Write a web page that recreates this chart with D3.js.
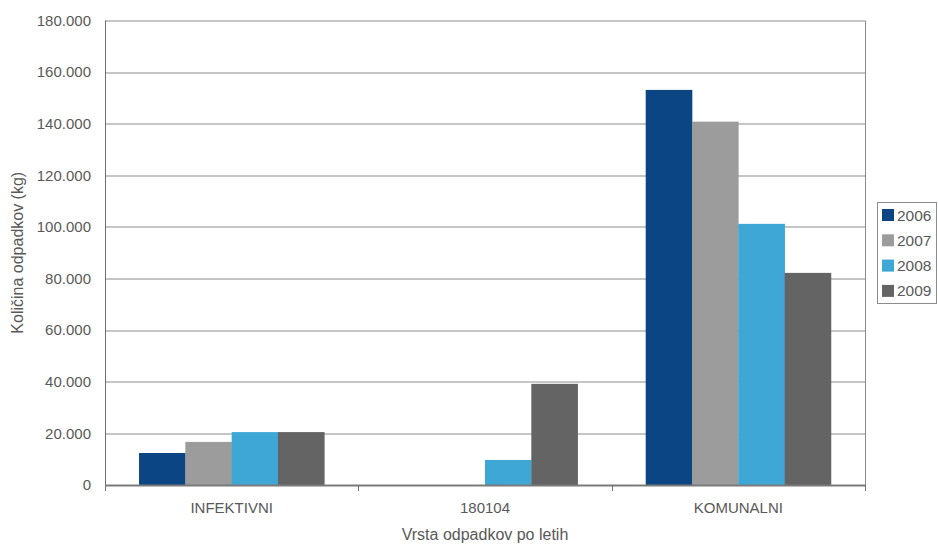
<!DOCTYPE html>
<html>
<head>
<meta charset="utf-8">
<script src="https://cdn.jsdelivr.net/npm/d3@7"></script>
<style>
  html, body { margin: 0; padding: 0; background: #fff; }
  svg { display: block; font-family: "Liberation Sans", Arial, sans-serif; }
</style>
</head>
<body>
<svg id="chart" width="938" height="545"></svg>
<script>
// Waste quantities (kg) per waste type and year
const categories = ["INFEKTIVNI", "180104", "KOMUNALNI"];
const years = ["2006", "2007", "2008", "2009"];
const values2006 = [12400, 0, 153100];
const values2007 = [16700, 0, 140800];
const values2008 = [20500, 9700, 101200];
const values2009 = [20500, 39200, 82200];
const yTicks = [0, 20000, 40000, 60000, 80000, 100000, 120000, 140000, 160000, 180000];
const colors = ["#0b4583", "#9c9c9c", "#3ea7d6", "#646464"];

const series = [values2006, values2007, values2008, values2009];

const svg = d3.select("#chart");
const margin = { left: 105, right: 73, top: 20.5, bottom: 60 };
const W = 938, H = 545;
const plotW = W - margin.left - margin.right;
const plotH = H - margin.top - margin.bottom;
const textColor = "#595959";

const locale = d3.formatLocale({ decimal: ",", thousands: ".", grouping: [3], currency: ["", "€"] });
const fmt = locale.format(",d");

const x = d3.scaleBand().domain(categories).range([0, plotW]).paddingInner(0).paddingOuter(0);
const xInner = d3.scaleBand().domain(years).range([0, x.bandwidth()]).paddingInner(0).paddingOuter(0.735);
const y = d3.scaleLinear().domain([0, 180000]).range([plotH, 0]);

const g = svg.append("g").attr("transform", `translate(${margin.left},${margin.top})`);

// horizontal gridlines
g.append("g")
  .selectAll("line")
  .data(yTicks.filter(d => d > 0))
  .join("line")
  .attr("x1", 0).attr("x2", plotW)
  .attr("y1", d => Math.round(y(d)) + 0.5).attr("y2", d => Math.round(y(d)) + 0.5)
  .attr("stroke", "#8c8c8c").attr("stroke-width", 1);

// right border of the plot area
g.append("line")
  .attr("x1", plotW + 0.5).attr("x2", plotW + 0.5)
  .attr("y1", 0).attr("y2", plotH)
  .attr("stroke", "#8c8c8c");

// bars
const groups = g.append("g")
  .selectAll("g")
  .data(categories)
  .join("g")
  .attr("transform", d => `translate(${x(d)},0)`);

groups.selectAll("rect")
  .data((c, i) => years.map((yr, k) => ({ yr, k, v: series[k][i] })))
  .join("rect")
  .attr("x", d => xInner(d.yr))
  .attr("width", xInner.bandwidth() + 0.3)
  .attr("y", d => y(d.v))
  .attr("height", d => plotH - y(d.v))
  .attr("fill", d => colors[d.k]);

// y axis
const yAxis = g.append("g")
  .call(d3.axisLeft(y).tickValues(yTicks).tickFormat(fmt).tickSize(0).tickPadding(14));
yAxis.select(".domain").attr("stroke", "#6e6e6e").attr("d", `M0.5,0V${plotH + 6}`);
yAxis.selectAll("text").attr("fill", textColor).attr("font-size", 15).attr("font-family", "Liberation Sans, Arial, sans-serif");

// x axis
const xAxis = g.append("g")
  .attr("transform", `translate(0,${plotH})`)
  .call(d3.axisBottom(x).tickSize(0).tickPadding(17));
xAxis.select(".domain").remove();
xAxis.selectAll("text").attr("fill", textColor).attr("font-size", 15).attr("font-family", "Liberation Sans, Arial, sans-serif");
xAxis.append("line").attr("x1", 0).attr("x2", plotW).attr("y1", 0.5).attr("y2", 0.5).attr("stroke", "#7a7a7a").attr("stroke-width", 2);
xAxis.selectAll(".boundary")
  .data([1, 2, 3])
  .join("line")
  .attr("class", "boundary")
  .attr("x1", i => Math.round(i * x.step()) + 0.5).attr("x2", i => Math.round(i * x.step()) + 0.5)
  .attr("y1", 0).attr("y2", 6)
  .attr("stroke", "#6e6e6e");

// axis titles
svg.append("text")
  .attr("transform", `translate(23,${margin.top + plotH / 2}) rotate(-90)`)
  .attr("text-anchor", "middle")
  .attr("fill", textColor).attr("font-size", 16)
  .text("Količina odpadkov (kg)");

svg.append("text")
  .attr("x", margin.left + plotW / 2).attr("y", 540)
  .attr("text-anchor", "middle")
  .attr("fill", textColor).attr("font-size", 16)
  .text("Vrsta odpadkov po letih");

// legend
const legend = svg.append("g").attr("transform", "translate(877,202)");
legend.append("rect")
  .attr("x", 0.5).attr("y", 0.5).attr("width", 59).attr("height", 101)
  .attr("fill", "#fff").attr("stroke", "#8c8c8c");
const items = legend.selectAll(".item")
  .data(years)
  .join("g")
  .attr("class", "item")
  .attr("transform", (d, i) => `translate(0,${13 + i * 25.3})`);
items.append("rect")
  .attr("x", 5).attr("y", -6).attr("width", 12).attr("height", 12)
  .attr("fill", (d, i) => colors[i]);
items.append("text")
  .attr("x", 20).attr("y", 5.5)
  .attr("fill", textColor).attr("font-size", 15.5)
  .text(d => d);
</script>
</body>
</html>
